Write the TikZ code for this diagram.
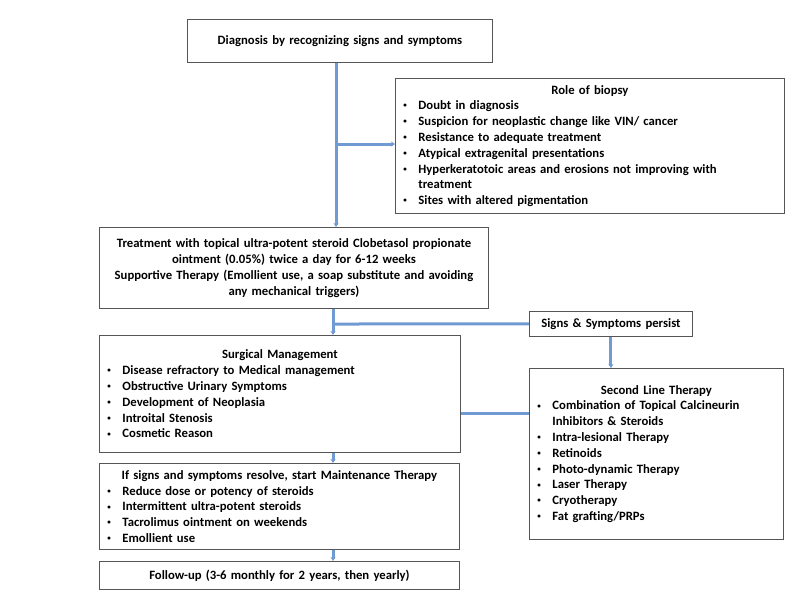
\documentclass[tikz,border=0pt]{standalone}
\usepackage{fontspec}
\setmainfont{Carlito}
\usetikzlibrary{positioning,arrows.meta}
\definecolor{linkblue}{RGB}{112,155,210}
\definecolor{boxgray}{RGB}{85,85,85}

\newcommand{\bul}[1]{\par\hangindent=15pt\hangafter=1\noindent\makebox[15pt][l]{\raisebox{.3ex}{\fontsize{7}{7}\selectfont\textbullet}}#1}

\begin{document}
\begin{tikzpicture}[x=1pt,y=1pt,>={Stealth[length=4pt,width=5pt]},
  box/.style={draw=boxgray,line width=0.9pt,fill=white,anchor=north west,
    inner xsep=8pt,inner ysep=3pt,align=left,
    font=\bfseries\fontsize{12.7}{15.8}\selectfont},
  link/.style={draw=linkblue,line width=3pt}]
\useasboundingbox[fill=white] (0,0) rectangle (800,-600);

\node[box,align=center,text width=289pt,minimum height=43pt] (diag) at (187,-19)
  {Diagnosis by recognizing signs and symptoms};
\node[box,text width=373pt,minimum height=135pt] (biopsy) at (395,-78)
  {{\centering Role of biopsy\par}
   \bul{Doubt in diagnosis}
   \bul{Suspicion for neoplastic change like VIN/ cancer}
   \bul{Resistance to adequate treatment}
   \bul{Atypical extragenital presentations}
   \bul{Hyperkeratotoic areas and erosions not improving with\newline treatment}
   \bul{Sites with altered pigmentation}};
\node[box,align=center,text width=373pt,minimum height=81pt] (treat) at (99,-227)
  {Treatment with topical ultra-potent steroid Clobetasol propionate\\
   ointment (0.05\%) twice a day for 6-12 weeks\\
   Supportive Therapy (Emollient use, a soap substitute and avoiding\\
   any mechanical triggers)};
\node[box,align=center,text width=147pt,minimum height=25pt,inner ysep=1pt] (signs) at (529,-311)
  {Signs \& Symptoms persist};
\node[box,text width=345pt,minimum height=117pt] (surg) at (99,-335)
  {{\centering Surgical Management\par}
   \bul{Disease refractory to Medical management}
   \bul{Obstructive Urinary Symptoms}
   \bul{Development of Neoplasia}
   \bul{Introital Stenosis}
   \bul{Cosmetic Reason}};
\node[box,text width=238pt,minimum height=171pt] (second) at (529,-368)
  {{\centering Second Line Therapy\par}
   \bul{Combination of Topical Calcineurin\newline Inhibitors \& Steroids}
   \bul{Intra-lesional Therapy}
   \bul{Retinoids}
   \bul{Photo-dynamic Therapy}
   \bul{Laser Therapy}
   \bul{Cryotherapy}
   \bul{Fat grafting/PRPs}};
\node[box,text width=344pt,minimum height=86pt] (maint) at (99,-463)
  {{\centering If signs and symptoms resolve, start Maintenance Therapy\par}
   \bul{Reduce dose or potency of steroids}
   \bul{Intermittent ultra-potent steroids}
   \bul{Tacrolimus ointment on weekends}
   \bul{Emollient use}};
\node[box,align=center,text width=344pt,minimum height=28pt,inner ysep=1pt] (follow) at (99,-561)
  {Follow-up (3-6 monthly for 2 years, then yearly)};

% junctions
\coordinate (jb) at (336,-144);
\coordinate (js) at (333,-324);

\draw[link,->] (diag.south -| jb) -- (treat.north -| jb);
\draw[link,->] (jb) -- (jb -| biopsy.west);
\draw[link,->] (treat.south -| js) -- (surg.north -| js);
\draw[link] (signs.west) -- (js);
\draw[link,->] (signs.south) -- (signs.south |- second.north);
\draw[link] (surg.east |- 0,-413) -- (second.west |- 0,-413);
\draw[link,->] (surg.south -| js) -- (maint.north -| js);
\draw[link,->] (maint.south -| js) -- (follow.north -| js);
\end{tikzpicture}
\end{document}
